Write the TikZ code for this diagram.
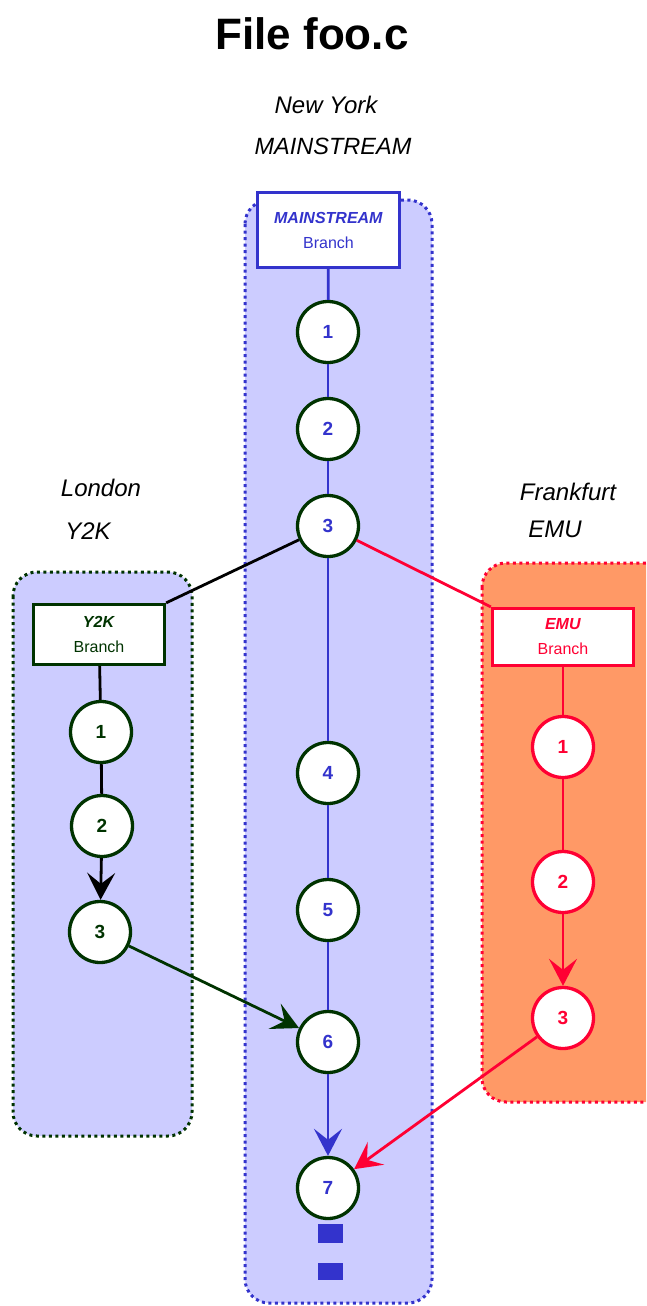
\documentclass[tikz,border=0pt]{standalone}
\usepackage{fontspec}
\setmainfont{Liberation Sans}
\usetikzlibrary{arrows.meta}
\definecolor{lanefill}{HTML}{CCCCFF}
\definecolor{orng}{HTML}{FF9966}
\definecolor{rd}{HTML}{FF0033}
\definecolor{bl}{HTML}{3333CC}
\definecolor{dg}{HTML}{003300}
\begin{document}
\begin{tikzpicture}[x=1pt,y=-1pt,
  lanebox/.style={rounded corners=24pt, line width=3pt, dash pattern=on 3pt off 3.5pt},
  brbox/.style={draw, fill=white, line width=3.2pt, inner sep=0pt, align=center,
    font=\fontsize{16}{25}\selectfont},
  ver/.style={circle, draw, fill=white, line width=3.3pt, minimum size=61pt, inner sep=0pt,
    font=\fontsize{19}{22}\selectfont\bfseries},
  conn/.style={line width=2.8pt},
  arr/.style={conn, -{Stealth[length=27pt,width=28pt,inset=11pt]}},
  lbl/.style={font=\fontsize{24}{28}\selectfont\itshape, inner sep=0pt},
  sq/.style={fill=bl, inner sep=0pt, minimum width=25pt}
]
\useasboundingbox (0,0) rectangle (646,1306);
\begin{scope}
\clip (0,0) rectangle (646,1306);
% lanes
\draw[lanebox, draw=bl, fill=lanefill] (245,200) rectangle (432,1303);
\draw[lanebox, draw=dg, fill=lanefill] (13,572) rectangle (192,1136);
\draw[lanebox, draw=rd, fill=orng] (482,563) rectangle (670,1102);
\end{scope}

% title and labels
\node[font=\fontsize{44}{50}\selectfont\bfseries, inner sep=0pt] (title) at (312,34) {File foo.c};
\node[lbl] (ny) at (326,105) {New York};
\node[lbl, font=\fontsize{23.5}{28}\selectfont\itshape] (nyb) at (333,146) {MAINSTREAM};
\node[lbl] (lo) at (101,488) {London};
\node[lbl] (lob) at (88,531) {Y2K};
\node[lbl] (fr) at (568,492) {Frankfurt};
\node[lbl] (frb) at (555,529) {EMU};

% branch boxes
\node[brbox, draw=bl, text=bl, minimum width=142pt, minimum height=75pt] (mbox) at (328.5,230)
  {\textbf{\textit{MAINSTREAM}}\\Branch};
\node[brbox, draw=dg, text=dg, minimum width=131pt, minimum height=60pt] (ybox) at (99,634.5)
  {\textbf{\textit{Y2K}}\\Branch};
\node[brbox, draw=rd, text=rd, minimum width=141pt, minimum height=57pt] (ebox) at (563,637)
  {\textbf{\textit{EMU}}\\Branch};

% mainstream versions
\node[ver, draw=dg, text=bl] (m1) at (328,332) {1};
\node[ver, draw=dg, text=bl] (m2) at (328,429) {2};
\node[ver, draw=dg, text=bl] (m3) at (328,526) {3};
\node[ver, draw=dg, text=bl] (m4) at (328,773) {4};
\node[ver, draw=dg, text=bl] (m5) at (328,910) {5};
\node[ver, draw=dg, text=bl] (m6) at (328,1042) {6};
\node[ver, draw=dg, text=bl] (m7) at (328,1188) {7};
\node[sq, minimum height=19pt] (d1) at (330.5,1233.5) {};
\node[sq, minimum height=17pt] (d2) at (330.5,1271.5) {};

% Y2K versions
\node[ver, draw=dg, text=dg] (y1) at (101,732) {1};
\node[ver, draw=dg, text=dg] (y2) at (102,826) {2};
\node[ver, draw=dg, text=dg] (y3) at (100,932) {3};

% EMU versions
\node[ver, draw=rd, text=rd] (e1) at (563,747) {1};
\node[ver, draw=rd, text=rd] (e2) at (563,882) {2};
\node[ver, draw=rd, text=rd] (e3) at (563,1018) {3};

% mainstream connectors
\draw[conn, bl] (mbox) -- (m1);
\draw[conn, bl] (m1) -- (m2);
\draw[conn, bl] (m2) -- (m3);
\draw[conn, bl] (m3) -- (m4);
\draw[conn, bl] (m4) -- (m5);
\draw[conn, bl] (m5) -- (m6);
\draw[arr, bl] (m6) -- (m7);

% Y2K connectors
\draw[conn, black] (m3) -- (ybox.north east);
\draw[conn, black] (ybox) -- (y1);
\draw[conn, black] (y1) -- (y2);
\draw[arr, black] (y2) -- (y3);
\draw[arr, dg] (y3) -- (m6);

% EMU connectors
\draw[conn, rd] (m3) -- (ebox.north west);
\draw[conn, rd] (ebox) -- (e1);
\draw[conn, rd] (e1) -- (e2);
\draw[arr, rd] (e2) -- (e3);
\draw[arr, rd] (e3) -- (m7);
\end{tikzpicture}
\end{document}
